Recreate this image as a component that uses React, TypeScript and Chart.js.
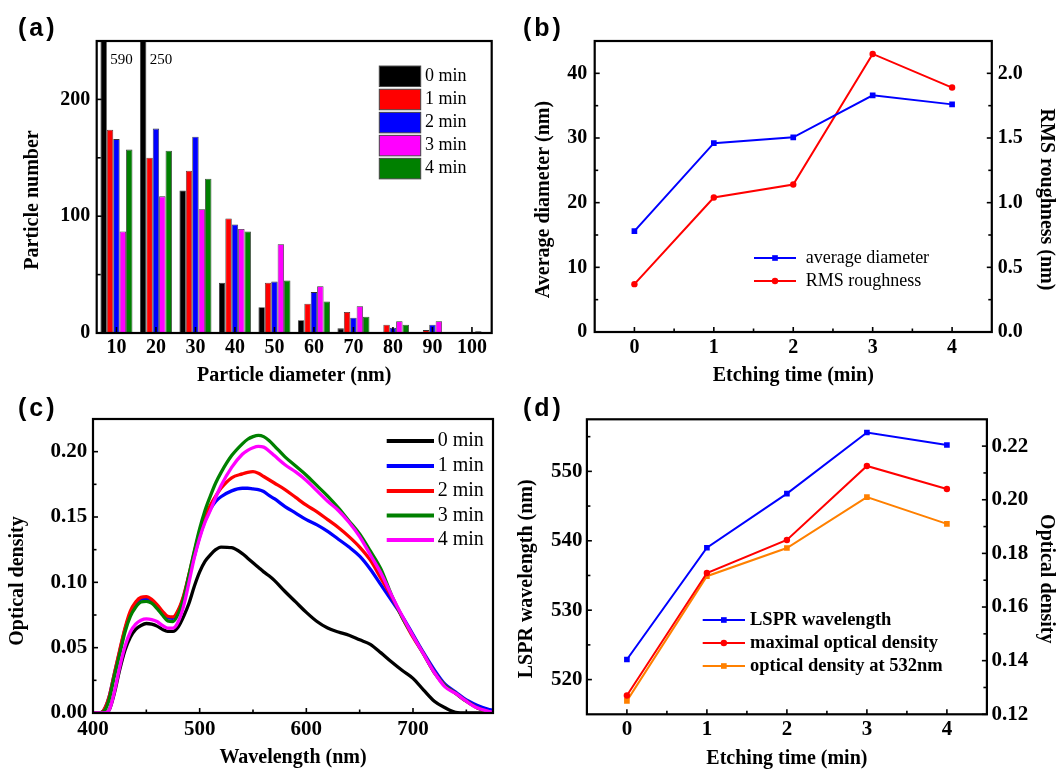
import React, { useEffect, useRef } from 'react';
import { Chart, registerables } from 'chart.js';

Chart.register(...registerables);

const SERIF = '"Liberation Serif", "Times New Roman", Times, serif';

// ---------- Panel (a): particle size histogram ----------
const diameterLabels = ['10', '20', '30', '40', '50', '60', '70', '80', '90', '100'];
const count0min = [590, 250, 122, 43, 22, 11, 4, 0, 0, 0];
const count1min = [174, 150, 139, 98, 43, 25, 18, 7, 2.5, 0];
const count2min = [166, 175, 168, 93, 44, 35, 13, 4.5, 7, 0];
const count3min = [87, 117, 106, 89, 76, 40, 23, 10, 10, 1.5];
const count4min = [157, 156, 132, 87, 45, 27, 14, 7, 0, 0];
const countTicks = [0, 100, 200];
const countMinorTicks = [50, 150];

// ---------- Panel (b): diameter & roughness ----------
const etchTimes = [0, 1, 2, 3, 4];
const avgDiameter = [15.6, 29.2, 30.1, 36.6, 35.2];
const rmsRoughness = [0.37, 1.04, 1.14, 2.15, 1.89];
const timeTicks = [0, 1, 2, 3, 4];
const timeMinorTicks = [0.5, 1.5, 2.5, 3.5];
const diameterTicks = [0, 10, 20, 30, 40];
const diameterMinorTicks = [5, 15, 25, 35];
const roughTicks = [0, 0.5, 1.0, 1.5, 2.0];
const roughMinorTicks = [0.25, 0.75, 1.25, 1.75];

// ---------- Panel (c): absorption spectra ----------
const wavelengths = [400, 405, 410, 415, 420, 425, 430, 435, 440, 445, 450, 455, 460, 465, 470, 475, 480, 485, 490, 495, 500, 505, 510, 515, 520, 530, 540, 545, 550, 555, 560, 565, 570, 580, 590, 600, 610, 620, 630, 640, 650, 660, 670, 680, 690, 700, 710, 720, 730, 740, 750, 760, 770, 775];
const od0min = [0, 0, 0, 0.002, 0.015, 0.033, 0.048, 0.058, 0.064, 0.067, 0.0685, 0.068, 0.0665, 0.064, 0.0625, 0.0625, 0.066, 0.074, 0.084, 0.097, 0.108, 0.116, 0.121, 0.125, 0.127, 0.1265, 0.122, 0.1185, 0.115, 0.1115, 0.108, 0.105, 0.1015, 0.093, 0.085, 0.077, 0.07, 0.065, 0.062, 0.0595, 0.056, 0.0525, 0.046, 0.039, 0.0325, 0.0265, 0.0175, 0.009, 0.004, 0.0005, 0, 0, 0, 0];
const od1min = [0, 0, 0.002, 0.012, 0.03, 0.047, 0.064, 0.076, 0.083, 0.087, 0.0875, 0.086, 0.082, 0.077, 0.073, 0.0725, 0.078, 0.089, 0.105, 0.12, 0.135, 0.147, 0.156, 0.162, 0.1655, 0.17, 0.172, 0.172, 0.1715, 0.171, 0.1695, 0.1665, 0.164, 0.158, 0.153, 0.148, 0.144, 0.139, 0.133, 0.127, 0.12, 0.11, 0.098, 0.086, 0.074, 0.06, 0.046, 0.033, 0.022, 0.016, 0.01, 0.006, 0.003, 0.002];
const od2min = [0, 0, 0.002, 0.012, 0.03, 0.048, 0.065, 0.078, 0.085, 0.0885, 0.089, 0.087, 0.083, 0.078, 0.074, 0.0735, 0.079, 0.09, 0.106, 0.123, 0.139, 0.151, 0.159, 0.166, 0.172, 0.18, 0.183, 0.1842, 0.1847, 0.1835, 0.181, 0.1785, 0.176, 0.171, 0.165, 0.159, 0.154, 0.148, 0.142, 0.135, 0.127, 0.117, 0.103, 0.089, 0.073, 0.058, 0.045, 0.031, 0.021, 0.015, 0.009, 0.004, 0.001, 0];
const od3min = [0, 0, 0.001, 0.01, 0.028, 0.045, 0.062, 0.074, 0.081, 0.085, 0.0855, 0.084, 0.08, 0.075, 0.0705, 0.07, 0.076, 0.088, 0.106, 0.124, 0.141, 0.155, 0.166, 0.176, 0.184, 0.197, 0.206, 0.2095, 0.2115, 0.2125, 0.2115, 0.2085, 0.2045, 0.196, 0.189, 0.182, 0.174, 0.166, 0.157, 0.147, 0.137, 0.124, 0.11, 0.09, 0.073, 0.059, 0.045, 0.031, 0.021, 0.015, 0.009, 0.004, 0.001, 0];
const od4min = [0, 0, 0, 0.002, 0.016, 0.035, 0.051, 0.062, 0.068, 0.071, 0.072, 0.0715, 0.07, 0.067, 0.065, 0.065, 0.07, 0.082, 0.1, 0.119, 0.134, 0.146, 0.155, 0.165, 0.174, 0.188, 0.198, 0.201, 0.203, 0.204, 0.2035, 0.2005, 0.197, 0.19, 0.1845, 0.178, 0.17, 0.162, 0.155, 0.146, 0.135, 0.121, 0.107, 0.09, 0.074, 0.059, 0.045, 0.031, 0.02, 0.015, 0.009, 0.004, 0.0015, 0.0005];
const wlTicks = [400, 500, 600, 700];
const wlMinorTicks = [450, 550, 650, 750];
const odTicks = [0, 0.05, 0.1, 0.15, 0.2];
const odMinorTicks = [0.025, 0.075, 0.125, 0.175];

// ---------- Panel (d): LSPR & optical density ----------
const lsprWavelength = [522.9, 539.0, 546.8, 555.6, 553.8];
const maxOpticalDensity = [0.127, 0.1727, 0.185, 0.2126, 0.204];
const od532nm = [0.125, 0.1715, 0.182, 0.201, 0.191];
const lsprTicks = [520, 530, 540, 550];
const lsprMinorTicks = [525, 535, 545, 555];
const odRightTicks = [0.12, 0.14, 0.16, 0.18, 0.2, 0.22];
const odRightMinorTicks = [0.13, 0.15, 0.17, 0.19, 0.21];

const timeLabels = ['0 min', '1 min', '2 min', '3 min', '4 min'];
const seriesColors = ['#000000', '#FF0000', '#0000FF', '#FF00FF', '#008000'];
const spectraColors = ['#000000', '#0000FF', '#FF0000', '#008000', '#FF00FF'];

// ---------- helpers ----------
const tickFontAB = { family: SERIF, weight: 'bold', size: 20, lineHeight: 1.2 };
const tickFontCD = { family: SERIF, weight: 'bold', size: 21, lineHeight: 1.2 };
const titleFont = { family: SERIF, weight: 'bold', size: 20, lineHeight: 1 };

const setTicks = (vals: number[]) => (scale: any) => {
  scale.ticks = vals.map((v) => ({ value: v }));
};
const fixed = (d: number) => (v: any) => Number(v).toFixed(d);

function axis(o: any) {
  const { title, size, ticks, tickFont, pad, fmt, ...rest } = o;
  const horizontal = rest.position === 'bottom';
  const conf: any = {
    grid: { display: false, drawTicks: false },
    border: { display: false },
    ticks: { font: tickFont, color: '#000', padding: pad, maxRotation: 0, autoSkip: false },
    // vertical titles are drawn by the yTitles plugin (slightly below centre, as in the original)
    title: { display: horizontal, text: title, font: titleFont, color: '#000', padding: 0 },
    ...rest,
  };
  if (fmt) conf.ticks.callback = fmt;
  if (ticks) conf.afterBuildTicks = setTicks(ticks);
  if (horizontal) {
    conf.afterFit = (s: any) => { s.height = size; };
  } else {
    conf.afterFit = (s: any) => { s.width = size; };
  }
  return conf;
}

const framePlugin = {
  id: 'frameTicks',
  afterDraw(chart: any, _a: any, opts: any) {
    if (!opts || !opts.ticks) return;
    const { ctx, chartArea: ca } = chart;
    ctx.save();
    ctx.strokeStyle = '#000';
    ctx.lineWidth = 1.6;
    opts.ticks.forEach((t: any) => {
      const s = chart.scales[t.scale];
      t.values.forEach((v: number) => {
        const p = s.getPixelForValue(v);
        ctx.beginPath();
        if (t.side === 'left') { ctx.moveTo(ca.left, p); ctx.lineTo(ca.left + t.len, p); }
        else if (t.side === 'right') { ctx.moveTo(ca.right, p); ctx.lineTo(ca.right - t.len, p); }
        else { ctx.moveTo(p, ca.bottom); ctx.lineTo(p, ca.bottom - t.len); }
        ctx.stroke();
      });
    });
    ctx.lineWidth = 2.2;
    ctx.strokeRect(ca.left, ca.top, ca.right - ca.left, ca.bottom - ca.top);
    ctx.restore();
  },
};

const yTitlePlugin = {
  id: 'yTitles',
  afterDraw(chart: any, _a: any, opts: any) {
    if (!opts || opts.shift === undefined) return;
    const { ctx, chartArea: ca } = chart;
    Object.values(chart.scales).forEach((s: any) => {
      const t = s.options.title;
      if (s.isHorizontal() || !t || t.display || !t.text) return;
      ctx.save();
      ctx.font = `bold ${titleFont.size}px ${SERIF}`;
      ctx.fillStyle = '#000';
      ctx.textAlign = 'center';
      ctx.textBaseline = 'middle';
      const y = (ca.top + ca.bottom) / 2 + opts.shift;
      if (s.position === 'left') {
        ctx.translate(s.left + titleFont.size / 2, y);
        ctx.rotate(-Math.PI / 2);
      } else {
        ctx.translate(s.right - titleFont.size / 2, y);
        ctx.rotate(Math.PI / 2);
      }
      ctx.fillText(t.text, 0, 0);
      ctx.restore();
    });
  },
};

function drawMarker(ctx: any, style: string, x: number, y: number, r: number, color: string) {
  ctx.fillStyle = color;
  ctx.beginPath();
  if (style === 'circle') {
    ctx.arc(x, y, r, 0, Math.PI * 2);
  } else {
    const h = Math.SQRT1_2 * r;
    ctx.rect(x - h, y - h, 2 * h, 2 * h);
  }
  ctx.fill();
}

const legendPlugin = {
  id: 'customLegend',
  afterDraw(chart: any, _a: any, opts: any) {
    if (!opts || !opts.ys) return;
    const { ctx } = chart;
    ctx.save();
    ctx.font = opts.font;
    ctx.textBaseline = 'middle';
    ctx.textAlign = 'left';
    chart.data.datasets.forEach((ds: any, i: number) => {
      const y = opts.ys[i];
      if (opts.kind === 'box') {
        ctx.fillStyle = ds.backgroundColor;
        ctx.fillRect(opts.x1, y - opts.boxH / 2, opts.x2 - opts.x1, opts.boxH);
        ctx.strokeStyle = '#444';
        ctx.lineWidth = 1;
        ctx.strokeRect(opts.x1, y - opts.boxH / 2, opts.x2 - opts.x1, opts.boxH);
      } else {
        ctx.strokeStyle = ds.borderColor;
        ctx.lineWidth = opts.lineWidth;
        ctx.beginPath();
        ctx.moveTo(opts.x1, y);
        ctx.lineTo(opts.x2, y);
        ctx.stroke();
        if (ds.pointRadius > 0) drawMarker(ctx, ds.pointStyle, (opts.x1 + opts.x2) / 2, y, ds.pointRadius, ds.borderColor);
      }
      ctx.fillStyle = '#000';
      ctx.fillText(ds.label, opts.textX, y);
    });
    ctx.restore();
  },
};

const barNotesPlugin = {
  id: 'barNotes',
  afterDatasetsDraw(chart: any, _a: any, opts: any) {
    if (!opts || !opts.font) return;
    const { ctx } = chart;
    const meta = chart.getDatasetMeta(0);
    const data = chart.data.datasets[0].data;
    const max = chart.scales.y.max;
    ctx.save();
    ctx.font = opts.font;
    ctx.fillStyle = '#000';
    ctx.textBaseline = 'middle';
    ctx.textAlign = 'left';
    meta.data.forEach((bar: any, i: number) => {
      if (data[i] >= max) {
        ctx.fillText(String(data[i]), bar.x + bar.width / 2 + opts.gap, chart.chartArea.top + opts.dy);
      }
    });
    ctx.restore();
  },
};

const basePlugins = { legend: { display: false }, tooltip: { enabled: false }, yTitles: { shift: 13 } };
const xy = (xs: number[], ys: number[]) => xs.map((x, i) => ({ x, y: ys[i] }));

// ---------- configs ----------
const configA: any = {
  type: 'bar',
  data: {
    labels: diameterLabels,
    datasets: [count0min, count1min, count2min, count3min, count4min].map((d, i) => ({
      label: timeLabels[i],
      data: d,
      backgroundColor: seriesColors[i],
      borderColor: '#333',
      borderWidth: 0.8,
      barPercentage: 1,
      categoryPercentage: 0.81,
      clip: 0,
    })),
  },
  options: {
    responsive: false,
    animation: false,
    devicePixelRatio: 1,
    layout: { padding: { left: 23, right: 564.3, top: 41, bottom: 383 } },
    plugins: {
      ...basePlugins,
      frameTicks: {
        ticks: [
          { scale: 'y', side: 'left', values: countTicks, len: 5 },
          { scale: 'y', side: 'left', values: countMinorTicks, len: 4 },
          { scale: 'x', side: 'bottom', values: diameterLabels.map((_, i) => i), len: 6 },
        ],
      },
      customLegend: { kind: 'box', x1: 379.3, x2: 420.7, boxH: 20.5, textX: 425, ys: [76.3, 99.5, 122.6, 145.6, 168.6], font: `18px ${SERIF}` },
      barNotes: { font: `15px ${SERIF}`, gap: 3.5, dy: 19 },
    },
    scales: {
      x: axis({ type: 'category', position: 'bottom', offset: true, title: 'Particle diameter (nm)', size: 53, tickFont: tickFontAB, pad: 3 }),
      y: axis({ type: 'linear', position: 'left', min: 0, max: 250, title: 'Particle number', size: 73.7, ticks: countTicks, tickFont: tickFontAB, pad: 6.5 }),
    },
  },
};

const configB: any = {
  type: 'line',
  data: {
    datasets: [
      { label: 'average diameter', data: xy(etchTimes, avgDiameter), yAxisID: 'y', borderColor: '#0000FF', backgroundColor: '#0000FF', borderWidth: 2, pointStyle: 'rect', pointRadius: 4, pointBackgroundColor: '#0000FF', pointBorderWidth: 0 },
      { label: 'RMS roughness', data: xy(etchTimes, rmsRoughness), yAxisID: 'y2', borderColor: '#FF0000', backgroundColor: '#FF0000', borderWidth: 2, pointStyle: 'circle', pointRadius: 3.2, pointBackgroundColor: '#FF0000', pointBorderWidth: 0 },
    ],
  },
  options: {
    responsive: false,
    animation: false,
    devicePixelRatio: 1,
    layout: { padding: { left: 534, right: 0, top: 41, bottom: 383 } },
    plugins: {
      ...basePlugins,
      frameTicks: {
        ticks: [
          { scale: 'x', side: 'bottom', values: timeTicks, len: 5 },
          { scale: 'x', side: 'bottom', values: timeMinorTicks, len: 3.5 },
          { scale: 'y', side: 'left', values: diameterTicks, len: 5 },
          { scale: 'y', side: 'left', values: diameterMinorTicks, len: 3.5 },
          { scale: 'y2', side: 'right', values: roughTicks, len: 5 },
          { scale: 'y2', side: 'right', values: roughMinorTicks, len: 3.5 },
        ],
      },
      customLegend: { kind: 'line', x1: 754, x2: 796, lineWidth: 2, textX: 805.7, ys: [258, 281], font: `18px ${SERIF}` },
    },
    scales: {
      x: axis({ type: 'linear', position: 'bottom', min: -0.5, max: 4.5, title: 'Etching time (min)', size: 54, ticks: timeTicks, tickFont: tickFontAB, pad: 4 }),
      y: axis({ type: 'linear', position: 'left', min: 0, max: 45, title: 'Average diameter (nm)', size: 60.7, ticks: diameterTicks, tickFont: tickFontAB, pad: 7.5 }),
      y2: axis({ type: 'linear', position: 'right', min: 0, max: 2.25, title: 'RMS roughness (nm)', size: 64.2, ticks: roughTicks, tickFont: tickFontAB, pad: 6, fmt: fixed(1) }),
    },
  },
};

const configC: any = {
  type: 'line',
  data: {
    datasets: [od0min, od1min, od2min, od3min, od4min].map((d, i) => ({
      label: timeLabels[i],
      data: xy(wavelengths, d),
      borderColor: spectraColors[i],
      backgroundColor: spectraColors[i],
      borderWidth: 3.3,
      pointRadius: 0,
      cubicInterpolationMode: 'monotone',
      order: 4 - i,
    })),
  },
  options: {
    responsive: false,
    animation: false,
    devicePixelRatio: 1,
    layout: { padding: { left: 8.3, right: 563, top: 419, bottom: 1 } },
    plugins: {
      ...basePlugins,
      yTitles: { shift: 15 },
      frameTicks: {
        ticks: [
          { scale: 'x', side: 'bottom', values: wlTicks, len: 5 },
          { scale: 'x', side: 'bottom', values: wlMinorTicks, len: 3.5 },
          { scale: 'y', side: 'left', values: odTicks, len: 5 },
          { scale: 'y', side: 'left', values: odMinorTicks, len: 3.5 },
        ],
      },
      customLegend: { kind: 'line', x1: 386.7, x2: 434, lineWidth: 4, textX: 437.7, ys: [441, 466, 491, 515.5, 540], font: `20px ${SERIF}` },
    },
    scales: {
      x: axis({ type: 'linear', position: 'bottom', min: 400, max: 775, title: 'Wavelength (nm)', size: 55, ticks: wlTicks, tickFont: tickFontCD, pad: 4.4 }),
      y: axis({ type: 'linear', position: 'left', min: 0, max: 0.225, title: 'Optical density', size: 84.7, ticks: odTicks, tickFont: tickFontCD, pad: 5.7, fmt: fixed(2) }),
    },
  },
};

const configD: any = {
  type: 'line',
  data: {
    datasets: [
      { label: 'LSPR wavelength', data: xy(etchTimes, lsprWavelength), yAxisID: 'y', borderColor: '#0000FF', backgroundColor: '#0000FF', borderWidth: 2, pointStyle: 'rect', pointRadius: 4, pointBackgroundColor: '#0000FF', pointBorderWidth: 0 },
      { label: 'maximal optical density', data: xy(etchTimes, maxOpticalDensity), yAxisID: 'y2', borderColor: '#FF0000', backgroundColor: '#FF0000', borderWidth: 2, pointStyle: 'circle', pointRadius: 3.2, pointBackgroundColor: '#FF0000', pointBorderWidth: 0 },
      { label: 'optical density at 532nm', data: xy(etchTimes, od532nm), yAxisID: 'y2', borderColor: '#FF8000', backgroundColor: '#FF8000', borderWidth: 2, pointStyle: 'rect', pointRadius: 4, pointBackgroundColor: '#FF8000', pointBorderWidth: 0 },
    ],
  },
  options: {
    responsive: false,
    animation: false,
    devicePixelRatio: 1,
    layout: { padding: { left: 516.6, right: 0, top: 419.3, bottom: 0 } },
    plugins: {
      ...basePlugins,
      yTitles: { shift: 12 },
      frameTicks: {
        ticks: [
          { scale: 'x', side: 'bottom', values: timeTicks, len: 5 },
          { scale: 'x', side: 'bottom', values: timeMinorTicks, len: 3.5 },
          { scale: 'y', side: 'left', values: lsprTicks, len: 5 },
          { scale: 'y', side: 'left', values: lsprMinorTicks, len: 3.5 },
          { scale: 'y2', side: 'right', values: odRightTicks, len: 5 },
          { scale: 'y2', side: 'right', values: odRightMinorTicks, len: 3.5 },
        ],
      },
      customLegend: { kind: 'line', x1: 702.7, x2: 745, lineWidth: 2, textX: 750, ys: [620, 643, 666], font: `bold 18.5px ${SERIF}` },
    },
    scales: {
      x: axis({ type: 'linear', position: 'bottom', min: -0.5, max: 4.5, title: 'Etching time (min)', size: 54.7, ticks: timeTicks, tickFont: tickFontCD, pad: 3.1 }),
      y: axis({ type: 'linear', position: 'left', min: 515, max: 557.5, title: 'LSPR wavelength (nm)', size: 70.3, ticks: lsprTicks, tickFont: tickFontCD, pad: 4.5 }),
      y2: axis({ type: 'linear', position: 'right', min: 0.12, max: 0.23, title: 'Optical density', size: 69.1, ticks: odRightTicks, tickFont: tickFontCD, pad: 4.5, fmt: fixed(2) }),
    },
  },
};

const allPlugins = [framePlugin, yTitlePlugin, legendPlugin, barNotesPlugin];

function ChartCanvas({ config }: { config: any }) {
  const ref = useRef<HTMLCanvasElement>(null);
  useEffect(() => {
    const chart = new Chart(ref.current as HTMLCanvasElement, { ...config, plugins: allPlugins });
    return () => chart.destroy();
  }, [config]);
  return (
    <canvas
      ref={ref}
      width={1056}
      height={769}
      style={{ position: 'absolute', left: 0, top: 0, width: 1056, height: 769 }}
    />
  );
}

const panelLabelStyle: React.CSSProperties = {
  position: 'absolute',
  font: 'bold 25px "Liberation Sans", Arial, sans-serif',
  lineHeight: 1,
  letterSpacing: '3px',
  color: '#000',
};

export default function App() {
  return (
    <div style={{ position: 'absolute', left: 0, top: 0, width: 1056, height: 769, background: '#fff', overflow: 'hidden' }}>
      <ChartCanvas config={configA} />
      <ChartCanvas config={configB} />
      <ChartCanvas config={configC} />
      <ChartCanvas config={configD} />
      <div style={{ ...panelLabelStyle, left: 18, top: 15 }}>(a)</div>
      <div style={{ ...panelLabelStyle, left: 523, top: 15 }}>(b)</div>
      <div style={{ ...panelLabelStyle, left: 18, top: 395 }}>(c)</div>
      <div style={{ ...panelLabelStyle, left: 523, top: 395 }}>(d)</div>
    </div>
  );
}
